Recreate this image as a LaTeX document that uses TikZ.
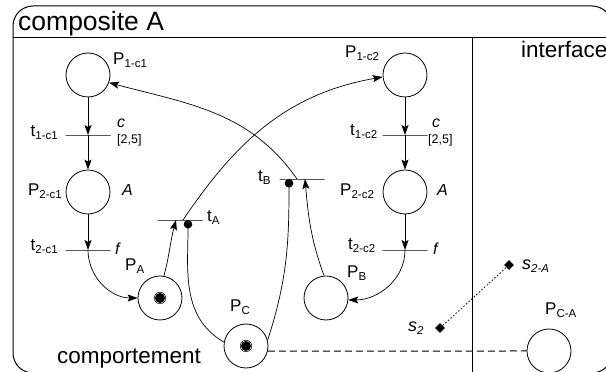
\documentclass[tikz,border=0pt]{standalone}
\usepackage{fontspec}
\setmainfont{Liberation Sans}
\usetikzlibrary{shapes.geometric,arrows.meta}

\newcommand{\lsub}[1]{\raisebox{-3pt}{\fontsize{11.5}{12}\selectfont #1}}
\newcommand{\lbig}{\fontsize{22.5}{26}\selectfont}
\newcommand{\lhead}{\fontsize{26.5}{30}\selectfont}
\newcommand{\lmid}{\fontsize{17}{20}\selectfont}
\newcommand{\lital}{\fontsize{16}{18}\selectfont\itshape}
\newcommand{\lsig}{\fontsize{18}{20}\selectfont\itshape}
\newcommand{\lsmall}{\fontsize{12.5}{14}\selectfont}

\begin{document}
\begin{tikzpicture}[x=1pt, y=1pt,
  place/.style={circle, draw, line width=0.8pt, minimum size=44pt, inner sep=0pt},
  trans/.style={draw, line width=0.8pt, minimum width=45pt, minimum height=0pt, inner sep=0pt, outer sep=0pt},
  arc/.style={line width=0.7pt, -{Stealth[length=10pt, width=7pt, inset=2pt]}},
  readarc/.style={line width=0.7pt, {Circle[length=8.5pt]}-},
  sig/.style={diamond, fill=black, inner sep=0pt, minimum size=10pt},
  lbl/.style={inner sep=0pt, font=\lmid}]
  \useasboundingbox (0,0) rectangle (606,372);
  \clip (0,0) rectangle (606,372);

  % frame: title bar, behaviour part | interface part
  \draw[line width=1pt, rounded corners=20pt] (13,-1) rectangle (612,366);
  \draw[line width=1pt] (13,334) -- (612,334);
  \draw[line width=1pt] (472,334) -- (472,-1);
  \node[anchor=base west, inner sep=0pt, font=\lhead] (title) at (18,341) {composite A};
  \node[anchor=base west, inner sep=0pt, font=\lbig] (behav) at (57,8) {comportement};
  \node[anchor=base west, inner sep=0pt, font=\lbig] (iface) at (521,314) {interface};

  % places
  \foreach \n/\x/\y in {P1c1/88/297, P2c1/88/180, PA/160/74, PC/246/26,
                        PB/326/74, P1c2/405/297, P2c2/405/180, PCA/549/21} {
    \node[place] (\n) at (\x,\y) {};
  }
  % tokens
  \foreach \n in {PA, PC} {
    \fill (\n.center) circle (5pt);
    \draw[line width=0.5pt] (\n.center) circle (5.8pt);
  }

  % transitions
  \foreach \n/\x/\y in {t1c1/88/237, t2c1/88/122, tA/180/152, tB/302/193,
                        t1c2/405/237, t2c2/405/122} {
    \node[trans] (\n) at (\x,\y) {};
  }

  % labels, left chain
  \node[lbl, anchor=base west] (lP1c1) at (113,307) {P\lsub{1-c1}};
  \node[lbl, anchor=base east] (lt1c1) at (58,235) {t\lsub{1-c1}};
  \node[anchor=base west, inner sep=0pt, font=\lital] (lc1) at (117,244) {c};
  \node[anchor=base west, inner sep=0pt, font=\lsmall] (ld1) at (117,228) {[2,5]};
  \node[lbl, anchor=base east] (lP2c1) at (62,176) {P\lsub{2-c1}};
  \node[anchor=base west, inner sep=0pt, font=\lital] (la1) at (122,176) {A};
  \node[lbl, anchor=base east] (lt2c1) at (58,121) {t\lsub{2-c1}};
  \node[anchor=base west, inner sep=0pt, font=\lital] (lf1) at (115,117) {f};

  % labels, right chain
  \node[lbl, anchor=base west] (lP1c2) at (345,314) {P\lsub{1-c2}};
  \node[lbl, anchor=base west] (lt1c2) at (350,236) {t\lsub{1-c2}};
  \node[anchor=base west, inner sep=0pt, font=\lital] (lc2) at (432,244) {c};
  \node[anchor=base west, inner sep=0pt, font=\lsmall] (ld2) at (428,228) {[2,5]};
  \node[lbl, anchor=base west] (lP2c2) at (340,176) {P\lsub{2-c2}};
  \node[anchor=base west, inner sep=0pt, font=\lital] (la2) at (437,176) {A};
  \node[lbl, anchor=base west] (lt2c2) at (348,122) {t\lsub{2-c2}};
  \node[anchor=base west, inner sep=0pt, font=\lital] (lf2) at (433,117) {f};

  % labels, shared part
  \node[lbl, anchor=base west] (lPA) at (125,101) {P\lsub{A}};
  \node[lbl, anchor=base west] (ltA) at (207,150) {t\lsub{A}};
  \node[lbl, anchor=base west] (ltB) at (258,190) {t\lsub{B}};
  \node[lbl, anchor=base west] (lPC) at (230,60) {P\lsub{C}};
  \node[lbl, anchor=base west] (lPB) at (347,94) {P\lsub{B}};
  \node[lbl, anchor=base west] (lPCA) at (545,57) {P\lsub{C-A}};

  % chains c1 and c2
  \draw[arc] (P1c1) -- (t1c1);
  \draw[arc] (t1c1) -- (P2c1);
  \draw[arc] (P2c1) -- (t2c1);
  \draw[arc] (t2c1.center) to[out=-90, in=180] (PA.west);
  \draw[arc] (P1c2) -- (t1c2);
  \draw[arc] (t1c2) -- (P2c2);
  \draw[arc] (P2c2) -- (t2c2);
  \draw[arc] (t2c2.center) to[out=-90, in=0] (PB.-5);

  % synchronisation tA / tB
  \draw[arc] (PA.80) to[out=75, in=-105] ([xshift=-4pt]tA.center);
  \draw[arc] ([xshift=3pt]tA.center) to[out=56, in=190] (P1c2.185);
  \draw[arc] (PB.95) to[out=110, in=-85] ([xshift=3pt]tB.center);
  \draw[arc] ([xshift=-5pt]tB.center) to[out=125, in=-15] (P1c1.-20);
  \draw[readarc] ([xshift=8pt]tA.center) to[out=-90, in=150] (PC.170);
  \draw[readarc] ([xshift=-13pt]tB.center) to[out=-90, in=72] (PC.15);

  % link to interface
  \draw[line width=1pt, dash pattern=on 7pt off 4pt] (PC.-13) -- (PCA.west);
  \node[sig] (s2) at (440,44) {};
  \node[sig] (s2A) at (509,107) {};
  \draw[line width=0.8pt, dash pattern=on 1.5pt off 2pt] (s2) -- (s2A);
  \node[anchor=base west, inner sep=0pt, font=\lsig] (ls2) at (408,40) {s\lsub{\itshape 2}};
  \node[anchor=base west, inner sep=0pt, font=\lsig] (ls2A) at (522,102) {s\lsub{\itshape 2-A}};
\end{tikzpicture}
\end{document}
